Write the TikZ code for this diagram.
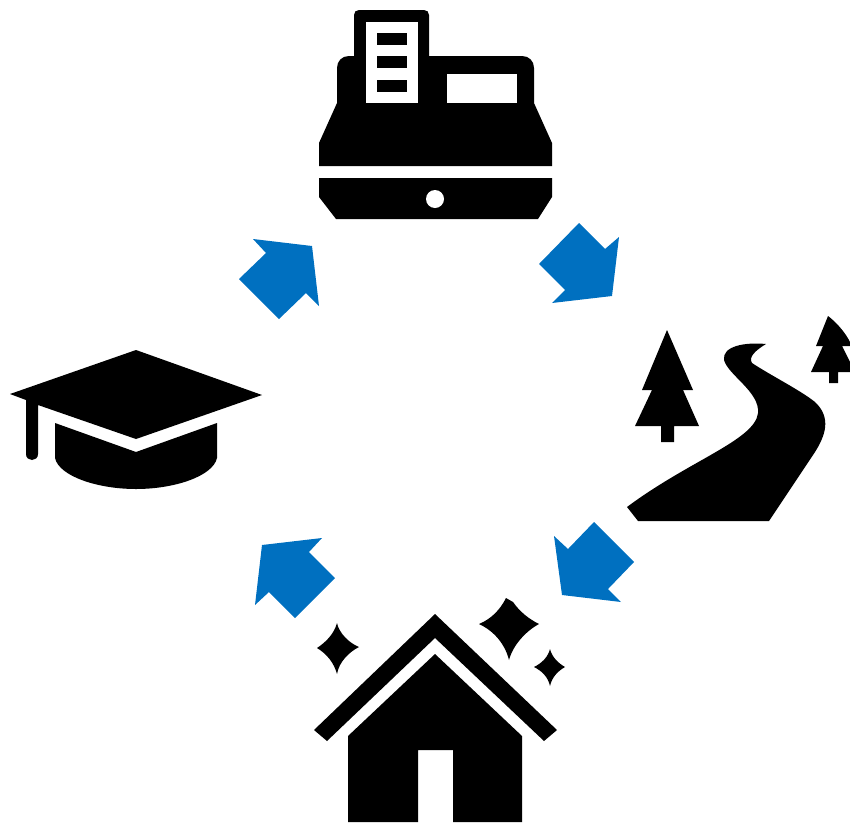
\documentclass[tikz,border=0pt]{standalone}
\definecolor{flowblue}{HTML}{0070C0}
\tikzset{
  icon/.style={fill=black,draw=none},
  hole/.style={fill=white,draw=none},
  flow/.style={fill=flowblue,draw=none}
}
\begin{document}
\begin{tikzpicture}[x=1pt,y=-1pt]
\useasboundingbox (0,0) rectangle (850,822);
% cash register
\fill[icon] (354,56) -- (354,15) .. controls (354,12) and (356,10) .. (359,10) -- (424,10) .. controls (427,10) and (429,12) .. (429,15) -- (429,56)
  -- (522,56) .. controls (529,56) and (534,61) .. (534,68) -- (534,103) -- (552,143) -- (552,166) -- (319,166) -- (319,143) -- (337,103) -- (337,68) .. controls (337,61) and (342,56) .. (349,56) -- cycle;
\fill[hole] (366,22) rectangle (418,103);
\fill[icon] (377,33) rectangle (407,45);
\fill[icon] (377,56) rectangle (407,68);
\fill[icon] (377,80) rectangle (407,92);
\fill[hole] (447,74) rectangle (517,103);
\fill[icon] (319,178) -- (552,178) -- (552,197) -- (538,219) -- (336,219) -- (319,197) -- cycle;
\fill[hole] (435,199) circle[radius=9];
% road and trees
\fill[icon] (766,344) .. controls (745,342) and (722,346) .. (724,360)
  .. controls (728,375) and (760,392) .. (758,413)
  .. controls (755,440) and (690,460) .. (627,507)
  -- (638,521) -- (769,521) -- (815,452)
  .. controls (825,436) and (832,418) .. (815,402)
  .. controls (800,390) and (770,375) .. (752,363)
  .. controls (748,357) and (756,350) .. (766,344) -- cycle;
\fill[icon] (667,330) -- (693,390) -- (683,390) -- (699,426) -- (674,426) -- (674,442) -- (661,442) -- (661,426) -- (635,426) -- (652,390) -- (642,390) -- cycle;
\fill[icon] (828,316) .. controls (836,322) and (845,332) .. (850,342) -- (850,346) -- (842,346) -- (850,362) -- (850,372) -- (838,372) -- (838,383) -- (829,383) -- (829,372) -- (811,372) -- (823,346) -- (816,346) -- cycle;
% house
\fill[icon] (435,614) -- (557,730) -- (544,741) -- (435,638) -- (327,741) -- (314,730) -- cycle;
\fill[icon] (435,654) -- (522,736) -- (522,822) -- (453,822) -- (453,750) -- (418,750) -- (418,822) -- (348,822) -- (348,736) -- cycle;
\fill[icon] (337,623) .. controls (339,633) and (349,643) .. (359,647) .. controls (349,652) and (339,662) .. (337,674) .. controls (334,663) and (327,654) .. (317,648) .. controls (326,642) and (334,634) .. (337,623) -- cycle;
\fill[icon] (506,598) -- (513,602) .. controls (520,612) and (529,619) .. (539,624) .. controls (526,631) and (513,645) .. (509,660) .. controls (505,644) and (494,631) .. (479,624) .. controls (491,619) and (500,610) .. (506,598) -- cycle;
\fill[icon] (550,649) .. controls (552,657) and (558,663) .. (565,667) .. controls (558,671) and (552,677) .. (550,686) .. controls (548,677) and (542,671) .. (534,667) .. controls (542,663) and (548,657) .. (550,649) -- cycle;
% cap
\fill[icon] (136,350) -- (262,395) -- (136,439) -- (38,405) -- (38,454) .. controls (38,458) and (35,460) .. (32,460) .. controls (29,460) and (26,458) .. (26,454) -- (26,400) -- (10,394) -- cycle;
\fill[icon] (55,423) -- (136,452) -- (217,423) -- (217,458) .. controls (213,476) and (175,489) .. (136,489) .. controls (97,489) and (59,476) .. (55,458) -- cycle;
% arrows
\fill[flow] (253,239) -- (312,246) -- (319,306) -- (306,293) -- (279,319) -- (239,279) -- (266,253) -- cycle;
\fill[flow] (579,223) -- (605,249) -- (619,237) -- (612,296) -- (552,303) -- (565,290) -- (539,264) -- cycle;
\fill[flow] (562,595) -- (554,536) -- (568,549) -- (594,522) -- (634,562) -- (608,589) -- (621,602) -- cycle;
\fill[flow] (262,545) -- (322,538) -- (309,552) -- (335,578) -- (295,618) -- (269,592) -- (255,605) -- cycle;
\end{tikzpicture}
\end{document}
